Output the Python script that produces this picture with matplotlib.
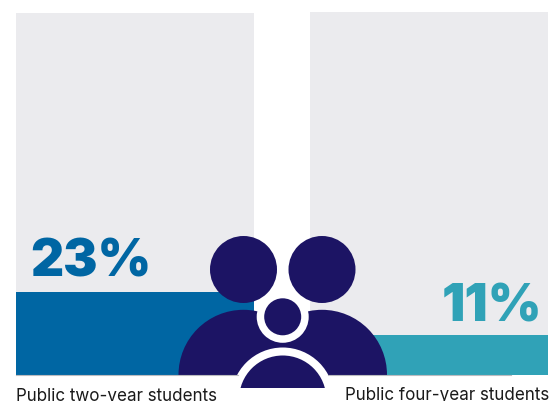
import matplotlib
matplotlib.use("Agg")
import matplotlib.pyplot as plt
from matplotlib.patches import Circle, Rectangle

labels = ["Public two-year students", "Public four-year students"]
values = [23, 11]
bar_colors = ["#0066a3", "#30a2b7"]
track_color = "#ebebee"
navy = "#1c1464"

plt.rcParams["font.family"] = ["Inter", "DejaVu Sans"]

W, H = 552, 402
NUDGE = 0.8
fig = plt.figure(figsize=(W / 100, H / 100), dpi=100)


def px_axes(x0, y0, x1, y1):
    # axes placed with pixel edges, y counted from the top
    return fig.add_axes([x0 / W, 1 - (y1 + NUDGE) / H, (x1 - x0) / W, (y1 - y0) / H])


left = px_axes(16, 13, 254, 375)
right = px_axes(310, 12, 548, 375)
for ax, val, col in zip([left, right], values, bar_colors):
    ax.set_xlim(0, 1)
    ax.set_ylim(0, 100)
    ax.set_facecolor(track_color)
    ax.bar(0.5, val, width=1, color=col)
    ax.set_xticks([])
    ax.set_yticks([])
    for s in ax.spines.values():
        s.set_visible(False)

# overlay in pixel coordinates for the icon and the text
ov = fig.add_axes([0, 0, 1, 1], facecolor="none")
ov.set_xlim(0, W)
ov.set_ylim(H - NUDGE, -NUDGE)
ov.axis("off")

ov.plot([16, 238], [375.3, 375.3], color="#bcbcc0", lw=0.8)
ov.plot([328, 511], [375.3, 375.3], color="#bcbcc0", lw=0.8)

clip_base = Rectangle((0, 0), W, 375, transform=ov.transData)
clip_low = Rectangle((0, 0), W, 388, transform=ov.transData)

# shoulders, then heads
for cx in [243.5, 322]:
    body = Circle((cx, 375), 65, fc=navy, ec="none")
    ov.add_patch(body)
    body.set_clip_path(clip_base)
    ov.add_patch(Circle((cx, 269.7), 33.5, fc=navy, ec="none"))

# small figure in front, with a white outline
ov.add_patch(Circle((282.7, 317), 26, fc="white", ec="none"))
ov.add_patch(Circle((282.7, 317), 18.5, fc=navy, ec="none"))
ring = Circle((282.7, 399.3), 51.6, fc="white", ec="none")
ov.add_patch(ring)
ring.set_clip_path(clip_base)
front = Circle((282.7, 399.3), 43.6, fc=navy, ec="none")
ov.add_patch(front)
front.set_clip_path(clip_low)

ov.text(30.5, 276, f"{values[0]}%", color=bar_colors[0], fontsize=37, fontweight="black",
        ha="left", va="baseline")
ov.text(542, 321, f"{values[1]}%", color=bar_colors[1], fontsize=37, fontweight="black",
        ha="right", va="baseline")

ov.text(16, 400.5, labels[0], color="#1a1a1a", fontsize=12.25, ha="left", va="baseline")
ov.text(549.5, 399.5, labels[1], color="#1a1a1a", fontsize=12.25, ha="right", va="baseline")

fig.savefig("out.png", dpi=100)
